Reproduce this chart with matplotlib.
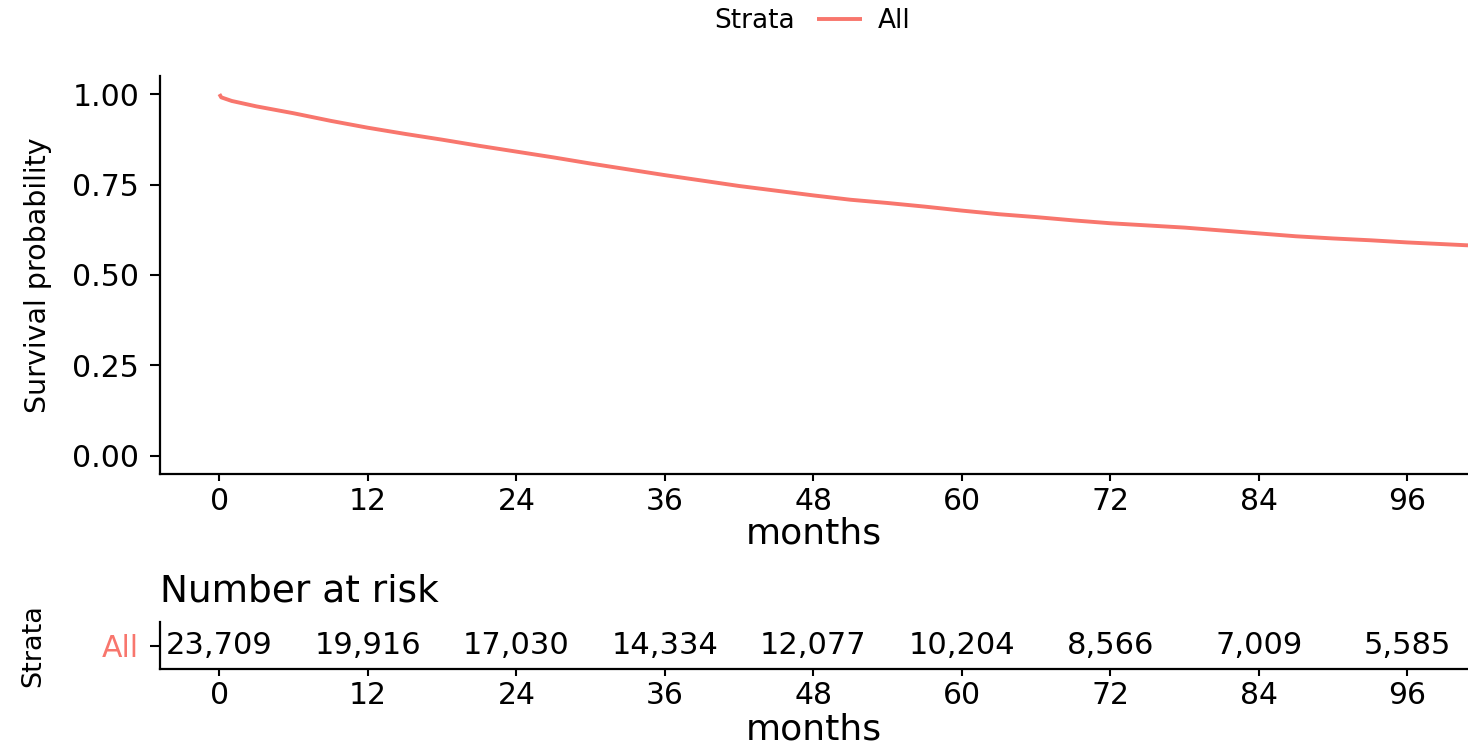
import matplotlib
matplotlib.use('Agg')
import matplotlib.pyplot as plt

# survival curve (months, probability)
months = [0, 0.15, 1, 3, 6, 9, 12, 15, 18, 21, 24, 27, 30, 33, 36, 39, 42, 45, 48,
          51, 54, 57, 60, 63, 66, 69, 72, 75, 78, 81, 84, 87, 90, 93, 96, 100.9]
surv = [1.000, 0.991, 0.981, 0.966, 0.947, 0.926, 0.907, 0.890, 0.874, 0.857, 0.841,
        0.825, 0.808, 0.792, 0.776, 0.761, 0.746, 0.733, 0.720, 0.708, 0.699, 0.689,
        0.678, 0.668, 0.660, 0.651, 0.643, 0.637, 0.631, 0.623, 0.615, 0.607, 0.601,
        0.596, 0.590, 0.582]

risk_times = [0, 12, 24, 36, 48, 60, 72, 84, 96]
risk_counts = [23709, 19916, 17030, 14334, 12077, 10204, 8566, 7009, 5585]
strata = 'All'

col = '#F8766D'
W, H = 1468, 745

fig = plt.figure(figsize=(W / 100, H / 100), dpi=100)

# main survival panel
ax = fig.add_axes([160 / W, 1 - 474 / H, 1 - 160 / W, (474 - 76) / H])
line, = ax.plot(months, surv, color=col, lw=2.8, solid_capstyle='butt')
ax.set_xlim(-4.8, 100.9)
ax.set_ylim(-0.05, 1.05)
ax.set_xticks(risk_times)
ax.set_yticks([0, 0.25, 0.5, 0.75, 1.0])
ax.set_yticklabels(['0.00', '0.25', '0.50', '0.75', '1.00'])
for s in ['top', 'right']:
    ax.spines[s].set_visible(False)
for s in ['left', 'bottom']:
    ax.spines[s].set_linewidth(1.6)
ax.tick_params(axis='y', length=7, width=1.5, pad=8, labelsize=21.5)
ax.tick_params(axis='x', length=5, width=1.5, pad=4, labelsize=21.5)
ax.set_xlabel('months', fontsize=26)
ax.xaxis.set_label_coords(0.5, (474 - 533) / 398)
ax.xaxis.label.set_va('center')
ax.set_ylabel('Survival probability', fontsize=20.5)
ax.yaxis.set_label_coords((38 - 160) / 1308, 0.5)
ax.yaxis.label.set_va('center')

# legend on top
fig.text(795 / W, 1 - 21 / H, 'Strata', ha='right', va='center', fontsize=19)
fig.legend(handles=[line], labels=[strata], loc='center left',
           bbox_to_anchor=(817 / W, 1 - 21 / H), frameon=False, fontsize=19,
           handlelength=1.7, handletextpad=0.6, borderpad=0, borderaxespad=0)

# number at risk table
at = fig.add_axes([160 / W, 1 - 669 / H, 1 - 160 / W, (669 - 622) / H])
at.set_xlim(-4.8, 100.9)
at.set_ylim(0.4, 1.6)
for t, n in zip(risk_times, risk_counts):
    at.text(t, 1, f'{n:,}', ha='center', va='center', fontsize=22)
at.set_xticks(risk_times)
at.set_yticks([1])
at.set_yticklabels([strata])
at.get_yticklabels()[0].set_color(col)
for s in ['top', 'right']:
    at.spines[s].set_visible(False)
for s in ['left', 'bottom']:
    at.spines[s].set_linewidth(1.6)
at.tick_params(axis='y', length=7, width=1.5, pad=8, labelsize=21.5)
at.tick_params(axis='x', length=5, width=1.5, pad=4, labelsize=21.5)
at.set_xlabel('months', fontsize=26)
at.xaxis.set_label_coords(0.5, (669 - 730) / 47)
at.xaxis.label.set_va('center')
at.set_ylabel('Strata', fontsize=19.5)
at.yaxis.set_label_coords((33 - 160) / 1308, 0.5)
at.yaxis.label.set_va('center')
at.text(0.0, (669 - 592) / 47, 'Number at risk', transform=at.transAxes,
        ha='left', va='center', fontsize=27)

fig.savefig('out.png', dpi=100)
